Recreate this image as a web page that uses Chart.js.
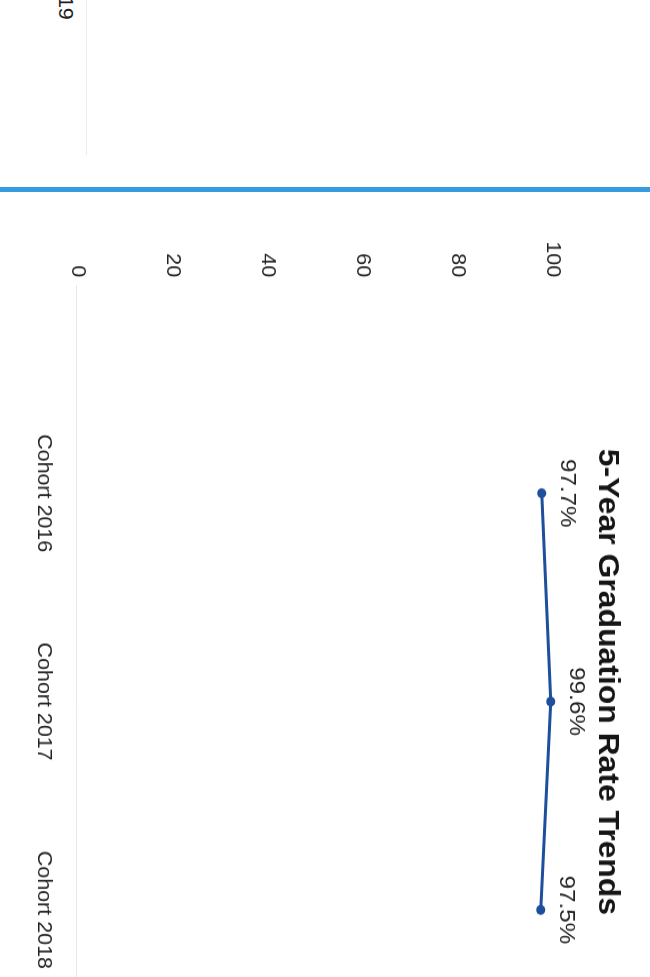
<!DOCTYPE html>
<html>
<head>
<meta charset="utf-8">
<script src="https://cdn.jsdelivr.net/npm/chart.js@4.4.1/dist/chart.umd.min.js"></script>
<style>
  html, body { margin: 0; padding: 0; width: 650px; height: 977px; overflow: hidden; background: #ffffff; }
  #page { position: absolute; left: 0; top: 0; width: 650px; height: 977px; overflow: hidden; background: #fff; }
  #rot { position: absolute; left: 0; top: 0; width: 1100px; height: 650px; transform-origin: 0 0;
         transform: translate(650px, 0) rotate(90deg) scale(1.1, 1); }
  #wrap { position: absolute; left: 200px; top: 0; width: 840px; height: 650px; }
  #prev { position: absolute; right: 1082px; top: 572px; white-space: nowrap;
          font: 19.5px "Liberation Sans", Arial, sans-serif; color: #222; line-height: 24px; }
  #prevAxis { position: absolute; left: 0; top: 563px; width: 141px; height: 1px; background: #ececec; }
  #divider { position: absolute; left: 0; top: 187px; width: 650px; height: 5px; background: #379bdf; }
</style>
</head>
<body>
<div id="page">
  <div id="rot">
    <div id="prev">Cohort 2019</div>
    <div id="prevAxis"></div>
    <div id="wrap"><canvas id="c" width="840" height="650"></canvas></div>
  </div>
  <div id="divider"></div>
</div>
<script>
const cohorts = ['Cohort 2016', 'Cohort 2017', 'Cohort 2018'];
const rates = [97.7, 99.6, 97.5];
const yTickValues = [0, 20, 40, 60, 80, 100];
const chartTitle = '5-Year Graduation Rate Trends';

const FONT = '"Liberation Sans", Arial, sans-serif';
const points = cohorts.map((c, i) => ({ x: i + 1, y: rates[i] }));

const valueLabels = {
  id: 'valueLabels',
  afterDatasetsDraw(chart) {
    const ctx = chart.ctx;
    const meta = chart.getDatasetMeta(0);
    ctx.save();
    ctx.font = '22px ' + FONT;
    ctx.fillStyle = '#222';
    ctx.textAlign = 'center';
    ctx.textBaseline = 'middle';
    meta.data.forEach((el, i) => {
      ctx.fillText(rates[i].toFixed(1) + '%', el.x, el.y - 25);
    });
    ctx.restore();
  }
};

new Chart(document.getElementById('c'), {
  type: 'line',
  data: {
    datasets: [{
      data: points,
      borderColor: '#1d4f9c',
      backgroundColor: '#1d4f9c',
      borderWidth: 3,
      pointRadius: 4.5,
      pointBackgroundColor: '#1d4f9c',
      pointBorderWidth: 0,
      tension: 0,
      clip: false
    }]
  },
  options: {
    responsive: false,
    animation: false,
    layout: { padding: { left: 0, right: 0, top: 0, bottom: 9.6 } },
    plugins: {
      legend: { display: false },
      tooltip: { enabled: false },
      title: {
        display: true,
        text: chartTitle,
        align: 'center',
        color: '#151515',
        font: { family: FONT, size: 29, weight: 'bold' },
        padding: { top: 26, bottom: 36.6 }
      }
    },
    scales: {
      x: {
        type: 'linear',
        bounds: 'data',
        min: 0,
        max: 4.1,
        grid: { display: false, drawTicks: false },
        border: { display: true, color: '#e8e8e8', width: 1 },
        afterBuildTicks: (s) => { s.ticks = cohorts.map((c, i) => ({ value: i + 1 })); },
        ticks: {
          autoSkip: false,
          maxRotation: 0,
          padding: 22,
          color: '#222',
          font: { family: FONT, size: 19.5 },
          callback: (v) => cohorts[v - 1] ?? ''
        }
      },
      y: {
        min: 0,
        max: 100,
        afterBuildTicks: (s) => { s.ticks = yTickValues.map(v => ({ value: v })); },
        afterFit: (s) => { s.width = 59; },
        grid: { display: false, drawTicks: false },
        border: { display: false },
        ticks: {
          padding: 7,
          color: '#222',
          font: { family: FONT, size: 19.5 }
        }
      }
    }
  },
  plugins: [valueLabels]
});
</script>
</body>
</html>
